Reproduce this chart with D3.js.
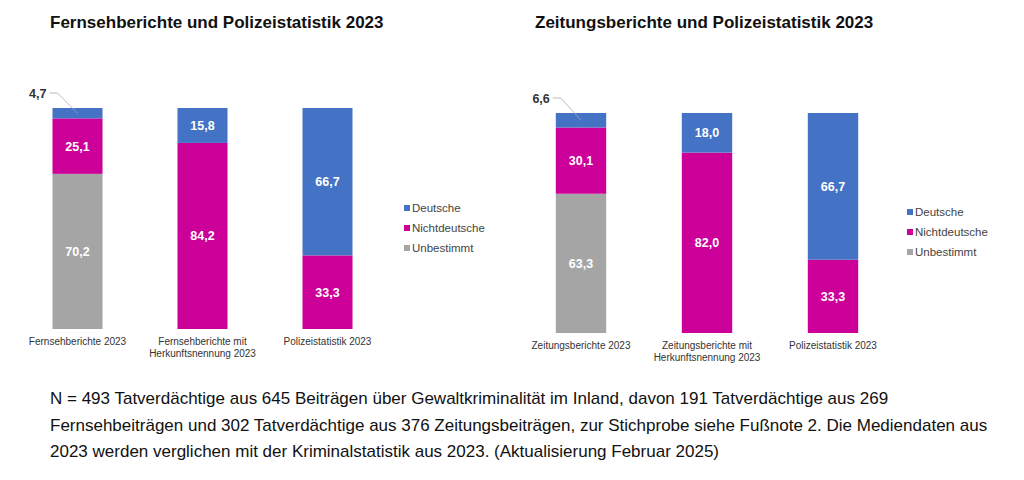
<!DOCTYPE html>
<html lang="de">
<head>
<meta charset="UTF-8">
<title>Fernseh- und Zeitungsberichte 2023</title>
<script src="https://d3js.org/d3.v7.min.js"></script>
<style>
  body { margin: 0; background: #fff; font-family: "Liberation Sans", Arial, sans-serif; }
  .note { position: absolute; left: 50px; top: 386px; width: 965px; font-size: 17px; line-height: 26.5px; color: #111; }
</style>
</head>
<body>
<svg id="chart" width="1024" height="480"></svg>
<div class="note">N = 493 Tatverdächtige aus 645 Beiträgen über Gewaltkriminalität im Inland, davon 191 Tatverdächtige aus 269 Fernsehbeiträgen und 302 Tatverdächtige aus 376 Zeitungsbeiträgen, zur Stichprobe siehe Fußnote 2. Die Mediendaten aus 2023 werden verglichen mit der Kriminalstatistik aus 2023. (Aktualisierung Februar 2025)</div>
<script>
// series order bottom -> top
const seriesNames = ["Unbestimmt", "Nichtdeutsche", "Deutsche"];
const colors = { Deutsche: "#4472c4", Nichtdeutsche: "#cc0099", Unbestimmt: "#a5a5a5" };

const tvCategories = [["Fernsehberichte 2023"], ["Fernsehberichte mit", "Herkunftsnennung 2023"], ["Polizeistatistik 2023"]];
const tvDeutsche = [4.7, 15.8, 66.7];
const tvNichtdeutsche = [25.1, 84.2, 33.3];
const tvUnbestimmt = [70.2, 0, 0];

const zCategories = [["Zeitungsberichte 2023"], ["Zeitungsberichte mit", "Herkunftsnennung 2023"], ["Polizeistatistik 2023"]];
const zDeutsche = [6.6, 18.0, 66.7];
const zNichtdeutsche = [30.1, 82.0, 33.3];
const zUnbestimmt = [63.3, 0, 0];

const svg = d3.select("#chart");
const fmt = v => v.toFixed(1).replace(".", ",");

function drawPanel(o) {
  const g = svg.append("g");
  g.append("text").attr("x", o.titleX).attr("y", 28)
    .attr("font-size", 17).attr("font-weight", "bold").attr("fill", "#111").text(o.title);

  const rows = o.cats.map((c, i) => ({
    i, Deutsche: o.d[i], Nichtdeutsche: o.n[i], Unbestimmt: o.u[i]
  }));
  const stack = d3.stack().keys(seriesNames)(rows);

  const x = d3.scaleBand().domain(d3.range(o.cats.length)).range([o.x0, o.x1]).paddingInner(0.6).paddingOuter(0.3);
  const y = d3.scaleLinear().domain([0, 100]).range([o.bottom, o.top]);

  stack.forEach(layer => {
    layer.forEach((s, i) => {
      const h = y(s[0]) - y(s[1]);
      if (h <= 0) return;
      g.append("rect").attr("x", x(i)).attr("width", x.bandwidth())
        .attr("y", y(s[1])).attr("height", h).attr("fill", colors[layer.key]);
      const v = s[1] - s[0];
      if (v > 10) {
        g.append("text").attr("x", x(i) + x.bandwidth() / 2).attr("y", (y(s[0]) + y(s[1])) / 2 + 4.5)
          .attr("text-anchor", "middle").attr("font-size", 12.5).attr("font-weight", "bold")
          .attr("fill", "#fff").text(fmt(v));
      } else {
        // small segment: label outside with leader line
        const cx = x(i) + x.bandwidth() / 2, cy = (y(s[0]) + y(s[1])) / 2;
        g.append("path").attr("d", `M${x(i) - 3},${o.top - 15} L${x(i) + 5},${o.top - 15} L${cx},${cy}`)
          .attr("fill", "none").attr("stroke", "#aaa").attr("stroke-width", 0.8);
        g.append("text").attr("x", x(i) - 6).attr("y", o.top - 10).attr("text-anchor", "end")
          .attr("font-size", 12.5).attr("font-weight", "bold").attr("fill", "#333").text(fmt(v));
      }
    });
  });

  o.cats.forEach((lines, i) => {
    lines.forEach((ln, k) => {
      g.append("text").attr("x", x(i) + x.bandwidth() / 2).attr("y", o.bottom + 16 + k * 12)
        .attr("text-anchor", "middle").attr("font-size", 10).attr("fill", "#333").text(ln);
    });
  });

  ["Deutsche", "Nichtdeutsche", "Unbestimmt"].forEach((k, j) => {
    const ly = o.legendY + j * 20;
    g.append("rect").attr("x", o.legendX).attr("y", ly - 7).attr("width", 6).attr("height", 6).attr("fill", colors[k]);
    g.append("text").attr("x", o.legendX + 8).attr("y", ly).attr("font-size", 11.5).attr("fill", "#444").text(k);
  });
}

drawPanel({ title: "Fernsehberichte und Polizeistatistik 2023", titleX: 50, cats: tvCategories,
  d: tvDeutsche, n: tvNichtdeutsche, u: tvUnbestimmt,
  x0: 15, x1: 390, top: 108, bottom: 329, legendX: 404, legendY: 212 });
drawPanel({ title: "Zeitungsberichte und Polizeistatistik 2023", titleX: 535, cats: zCategories,
  d: zDeutsche, n: zNichtdeutsche, u: zUnbestimmt,
  x0: 518, x1: 896, top: 113, bottom: 333, legendX: 907, legendY: 216 });
</script>
</body>
</html>
